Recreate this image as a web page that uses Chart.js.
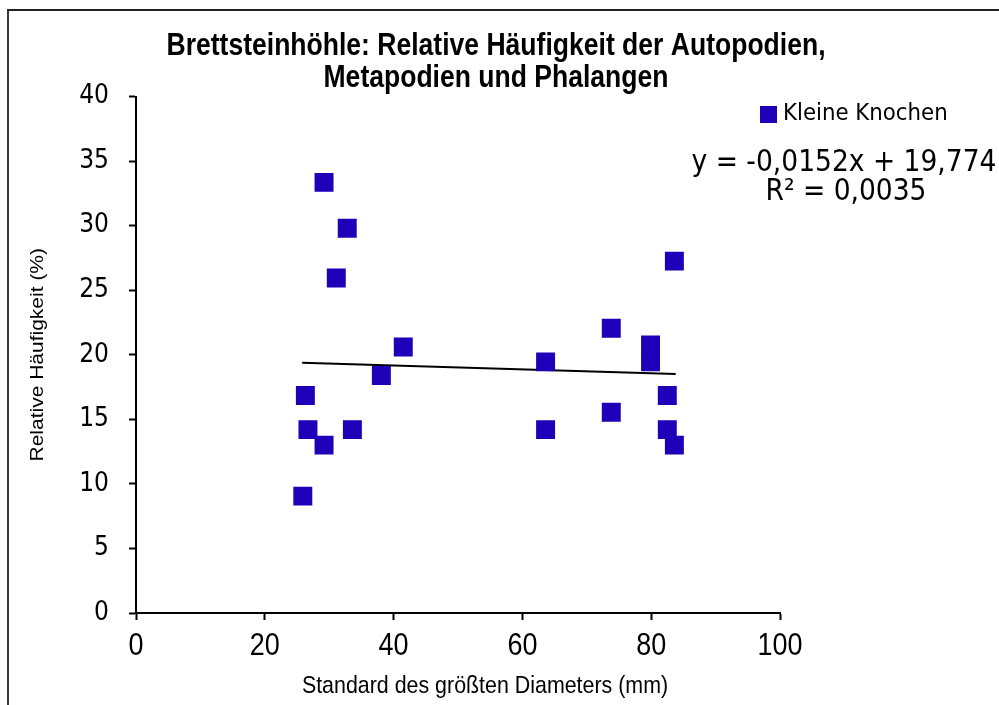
<!DOCTYPE html>
<html>
<head>
<meta charset="utf-8">
<script src="https://cdn.jsdelivr.net/npm/chart.js@4.4.1/dist/chart.umd.min.js"></script>
<style>
  html, body { margin: 0; padding: 0; background: #fff; }
  #wrap { position: relative; width: 999px; height: 705px; overflow: hidden; }
  #frame { position: absolute; left: 7px; top: 9px; width: 1100px; height: 800px;
           border-top: 2px solid #222; border-left: 2px solid #3a3a3a; }
  canvas { position: absolute; left: 0; top: 0; }
</style>
</head>
<body>
<div id="wrap">
  <div id="frame"></div>
  <canvas id="chart" width="999" height="705"></canvas>
</div>
<script>
// data
const xValues = [25.9, 26.3, 26.7, 29.2, 29.2, 31.1, 32.8, 33.6, 38.1, 41.5,
                 63.6, 63.6, 73.8, 73.8, 79.9, 79.9, 82.5, 82.5, 83.6, 83.6];
const yValues = [9.05, 16.85, 14.2, 13.0, 33.35, 25.95, 29.8, 14.2, 18.4, 20.6,
                 19.45, 14.2, 22.05, 15.55, 20.75, 19.45, 16.85, 14.2, 27.25, 13.0];
const trendX = [25.8, 83.8];
const trendY = [19.38, 18.50];

const seriesName = 'Kleine Knochen';
const titleLines = ['Brettsteinhöhle: Relative Häufigkeit der Autopodien,', 'Metapodien und Phalangen'];
const equationLines = ['y = -0,0152x + 19,774', 'R² = 0,0035'];
const xTitle = 'Standard des größten Diameters (mm)';
const yTitle = 'Relative Häufigkeit (%)';

const ARIAL = "'Liberation Sans', Arial, sans-serif";
const VERD = "'DejaVu Sans Condensed', 'DejaVu Sans', Verdana, sans-serif";
const MARK = '#1d00b8';
const SQ = 0.87; // the arial texts of the original are a bit narrow

// draws a text squeezed horizontally, centred on x
function narrowText(ctx, txt, x, y) {
  ctx.save();
  ctx.translate(x, y);
  ctx.scale(SQ, 1);
  ctx.fillText(txt, 0, 0);
  ctx.restore();
}

// title, legend, equation, x tick labels and axis titles
const textPlugin = {
  id: 'texts',
  afterDraw(chart) {
    const ctx = chart.ctx;
    const a = chart.chartArea;
    const xs = chart.scales.x;
    ctx.save();
    ctx.fillStyle = '#000';
    ctx.textBaseline = 'middle';
    ctx.textAlign = 'center';

    ctx.font = 'bold 30.5px ' + ARIAL;
    narrowText(ctx, titleLines[0], 496, 47);
    narrowText(ctx, titleLines[1], 496, 79);

    ctx.font = '31px ' + ARIAL;
    xs.ticks.forEach(t => narrowText(ctx, String(t.value), xs.getPixelForValue(t.value), 646));

    ctx.font = '24.6px ' + ARIAL;
    narrowText(ctx, xTitle, 485, 686);

    ctx.fillStyle = MARK;
    ctx.fillRect(760, 106, 17, 17);
    ctx.fillStyle = '#000';
    ctx.textAlign = 'left';
    ctx.font = '23.7px ' + VERD;
    ctx.fillText(seriesName, 783, 114);

    ctx.textAlign = 'center';
    ctx.font = '29.5px ' + VERD;
    ctx.fillText(equationLines[0], 844, 163);
    ctx.fillText(equationLines[1], 846, 192);

    ctx.translate(38, (a.top + a.bottom) / 2);
    ctx.scale(SQ, 1);
    ctx.rotate(-Math.PI / 2);
    ctx.font = '21px ' + ARIAL;
    ctx.fillText(yTitle, 0, 0);
    ctx.restore();
  }
};

new Chart(document.getElementById('chart'), {
  type: 'scatter',
  data: {
    datasets: [
      {
        label: seriesName,
        data: xValues.map((x, i) => ({ x, y: yValues[i] })),
        pointStyle: 'rect',
        pointRadius: 13.4,
        pointHoverRadius: 13.4,
        pointBorderWidth: 0,
        backgroundColor: MARK,
        borderColor: MARK
      },
      {
        type: 'line',
        label: 'Trend',
        data: trendX.map((x, i) => ({ x, y: trendY[i] })),
        borderColor: '#000',
        borderWidth: 2,
        pointRadius: 0,
        fill: false
      }
    ]
  },
  options: {
    responsive: false,
    animation: false,
    devicePixelRatio: 1,
    layout: { padding: { left: 0, top: 96.5, right: 219, bottom: 0 } },
    plugins: {
      legend: { display: false },
      title: { display: false },
      tooltip: { enabled: false }
    },
    scales: {
      x: {
        type: 'linear',
        min: 0, max: 100,
        ticks: { stepSize: 20, display: false },
        grid: { drawOnChartArea: false, drawTicks: true, tickLength: 7, tickWidth: 2, tickColor: '#000' },
        border: { color: '#000', width: 2 },
        afterFit: s => { s.height = 92; }
      },
      y: {
        min: 0, max: 40,
        ticks: { stepSize: 5, color: '#000', padding: 20, font: { family: VERD, size: 26 } },
        grid: { drawOnChartArea: false, drawTicks: true, tickLength: 7, tickWidth: 2, tickColor: '#000' },
        border: { color: '#000', width: 2 },
        afterFit: s => { s.width = 136; }
      }
    }
  },
  plugins: [textPlugin]
});
</script>
</body>
</html>
